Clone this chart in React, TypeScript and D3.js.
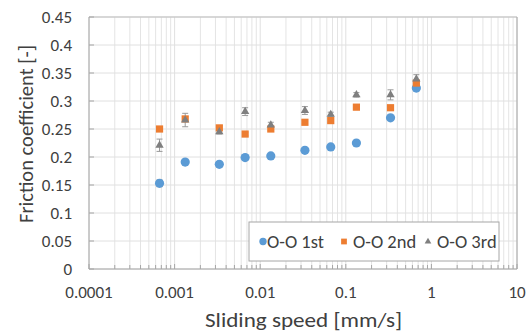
import React from "react";
import * as d3 from "d3";

const speeds = [0.000667, 0.00133, 0.00333, 0.00667, 0.0133, 0.0333, 0.0667, 0.133, 0.333, 0.667];
const first = [0.153, 0.191, 0.187, 0.199, 0.202, 0.212, 0.218, 0.225, 0.27, 0.323];
const firstErr = [0.006, 0.003, 0.003, 0.003, 0.003, 0.003, 0.003, 0.003, 0.003, 0.004];
const second = [0.25, 0.268, 0.252, 0.241, 0.25, 0.262, 0.265, 0.289, 0.288, 0.332];
const secondErr = [0.003, 0.004, 0.004, 0.003, 0.003, 0.003, 0.003, 0.004, 0.003, 0.004];
const third = [0.221, 0.266, 0.245, 0.281, 0.257, 0.283, 0.276, 0.311, 0.311, 0.339];
const thirdErr = [0.011, 0.012, 0.004, 0.007, 0.005, 0.007, 0.004, 0.004, 0.009, 0.008];
const yTicks = [0, 0.05, 0.1, 0.15, 0.2, 0.25, 0.3, 0.35, 0.4, 0.45];
const xTicks = [0.0001, 0.001, 0.01, 0.1, 1, 10];
const seriesNames = ["O-O 1st", "O-O 2nd", "O-O 3rd"];
const colors = ["#5B9BD5", "#ED7D31", "#7F7F7F"];

const W = 532, H = 333;
const L = 89, R = 517, T = 17, B = 269;
const font = "Carlito, 'Open Sans', 'Liberation Sans', sans-serif";
const txt = "#404040";

export default function App() {
  const x = d3.scaleLog().domain([0.0001, 10]).range([L, R]);
  const y = d3.scaleLinear().domain([0, 0.45]).range([B, T]);
  const minors: number[] = [];
  for (let e = -4; e < 1; e++) for (let m = 2; m <= 9; m++) minors.push(m * Math.pow(10, e));
  const series = [
    { v: first, e: firstErr },
    { v: second, e: secondErr },
    { v: third, e: thirdErr },
  ];
  const marker = (k: number, cx: number, cy: number, key: string, scale = 1) => {
    if (k === 0) return <circle key={key} cx={cx} cy={cy} r={4.6 * scale} fill={colors[0]} />;
    if (k === 1) {
      const s = 7.2 * scale;
      return <rect key={key} x={cx - s / 2} y={cy - s / 2} width={s} height={s} fill={colors[1]} />;
    }
    const tri = d3.symbol().type(d3.symbolTriangle).size(30 * scale * scale)();
    return <path key={key} d={tri || ""} transform={`translate(${cx},${cy})`} fill={colors[2]} />;
  };
  return (
    <svg width={W} height={H} style={{ position: "absolute", left: 0, top: 0, background: "#fff" }}>
      {minors.map((m, i) => (
        <line key={"vg" + i} x1={x(m)} x2={x(m)} y1={T} y2={B} stroke="#e4e4e4" strokeWidth={1} />
      ))}
      {xTicks.map((t, i) => (
        <line key={"vM" + i} x1={x(t)} x2={x(t)} y1={T} y2={B} stroke="#e0e0e0" strokeWidth={1} />
      ))}
      {yTicks.map((t, i) => (
        <line key={"hg" + i} x1={L} x2={R} y1={y(t)} y2={y(t)} stroke="#e0e0e0" strokeWidth={1} />
      ))}
      <line x1={L} x2={R} y1={T} y2={T} stroke="#bfbfbf" />
      <line x1={R} x2={R} y1={T} y2={B} stroke="#a6a6a6" />
      <line x1={L} x2={L} y1={T} y2={B} stroke="#a6a6a6" />
      <line x1={L} x2={R} y1={B} y2={B} stroke="#a6a6a6" />
      {yTicks.map((t, i) => (
        <line key={"yt" + i} x1={L} x2={L + 5} y1={y(t)} y2={y(t)} stroke="#a6a6a6" />
      ))}
      {minors.concat(xTicks).map((m, i) => (
        <line key={"xt" + i} x1={x(m)} x2={x(m)} y1={B} y2={B - (xTicks.includes(m) ? 5 : 4)} stroke="#a6a6a6" />
      ))}
      {yTicks.map((t, i) => (
        <text key={"yl" + i} x={72} y={y(t) + 6} textAnchor="end" fontSize={17} fill={txt} fontFamily={font}>
          {t === 0 ? "0" : String(t)}
        </text>
      ))}
      {xTicks.map((t, i) => (
        <text key={"xl" + i} x={x(t)} y={298} textAnchor="middle" fontSize={17} fill={txt} fontFamily={font}>
          {String(t)}
        </text>
      ))}
      <text x={303.5} y={327} textAnchor="middle" fontSize={20} fill={txt} fontFamily={font}
        textLength={197} lengthAdjust="spacingAndGlyphs">
        Sliding speed [mm/s]
      </text>
      <text transform={`translate(32.5,134) rotate(-90)`} textAnchor="middle" fontSize={19.5} fill={txt} fontFamily={font}
        textLength={178} lengthAdjust="spacingAndGlyphs">
        Friction coefficient [-]
      </text>
      {series.map((s, k) =>
        s.v.map((v, i) => {
          const cx = x(speeds[i]);
          const y1 = y(v - s.e[i]), y2 = y(v + s.e[i]);
          return (
            <g key={"e" + k + "-" + i} stroke="#9a9a9a" strokeWidth={1}>
              <line x1={cx} x2={cx} y1={y1} y2={y2} />
              <line x1={cx - 3} x2={cx + 3} y1={y1} y2={y1} />
              <line x1={cx - 3} x2={cx + 3} y1={y2} y2={y2} />
            </g>
          );
        })
      )}
      {series.map((s, k) => s.v.map((v, i) => marker(k, x(speeds[i]), y(v), "m" + k + "-" + i)))}
      <rect x={249} y={222} width={250} height={39} fill="#fff" stroke="#a6a6a6" />
      {seriesNames.map((n, k) => {
        const mx = [263, 344, 428][k];
        const tx = [267, 353, 437][k];
        return (
          <g key={"lg" + k}>
            {marker(k, mx, 241.5, "lm" + k, 0.8)}
            <text x={tx} y={247.5} fontSize={18.5} fill={txt} fontFamily={font}>
              {n}
            </text>
          </g>
        );
      })}
    </svg>
  );
}
